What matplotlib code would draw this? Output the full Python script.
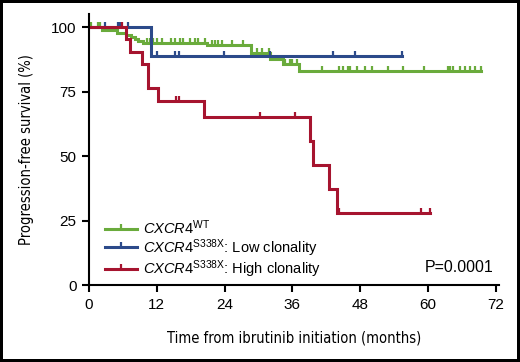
import numpy as np
import matplotlib
matplotlib.use("Agg")
import matplotlib.pyplot as plt
from matplotlib.lines import Line2D
from matplotlib.path import Path

plt.rcParams['font.family'] = ['Liberation Sans', 'DejaVu Sans']
plt.rcParams['mathtext.fontset'] = 'custom'
plt.rcParams['mathtext.rm'] = 'Liberation Sans'
plt.rcParams['mathtext.it'] = 'Liberation Sans:italic'

# step curves: time of each drop and survival after it (months, %)
wt_t = [0, 2.4, 4.9, 6.5, 7.5, 8.1, 8.7, 9.6, 20.9, 28.7, 32.0, 34.3, 37.2]
wt_s = [100, 98.8, 97.7, 96.9, 96.1, 95.3, 94.5, 93.7, 92.9, 90.0, 87.8, 85.6, 82.9]
wt_end = 69.4
wt_cens = [0.3, 1.6, 1.9, 10.2, 10.8, 11.4, 12.1, 12.9, 14.6, 15.2, 16.1, 16.7,
           17.9, 18.8, 19.3, 20.5, 21.7, 22.3, 22.9, 23.5, 25.3, 27.3, 29.7,
           30.7, 31.9, 34.7, 35.5, 36.0, 36.8, 41.2, 44.3, 45.0, 45.9, 46.2,
           47.4, 48.8, 50.0, 53.0, 55.5, 59.2, 63.5, 63.9, 64.4, 65.7, 66.5,
           67.4, 68.3, 69.4]

low_t = [0, 10.9]
low_s = [100, 88.9]
low_end = 55.4
low_cens = [2.8, 5.1, 5.5, 7.0, 12.1, 15.3, 15.9, 23.9, 32.0, 43.1, 47.1, 55.4]

high_t = [0, 6.5, 7.3, 9.4, 10.4, 12.2, 20.4, 39.1, 39.6, 42.5, 43.9]
high_s = [100, 95.2, 90.5, 85.7, 76.2, 71.4, 65.2, 55.9, 46.6, 37.3, 28.0]
high_end = 60.4
high_cens = [5.9, 15.4, 15.9, 30.3, 36.5, 44.3, 58.7, 60.4]

green = "#6aab3c"
blue = "#2c4a8a"
red = "#a6142f"

tick_mark = Path([(0, 0), (0, 1)], [Path.MOVETO, Path.LINETO])


def km(ax, t, s, end, cens, color):
    tt = np.append(t, end)
    ss = np.append(s, s[-1])
    ax.step(tt, ss, where="post", color=color, lw=2.2, solid_joinstyle="miter")
    idx = np.searchsorted(t, cens, side="right") - 1
    ax.plot(cens, np.array(s)[idx], ls="none", marker=tick_mark, ms=6.5,
            mec=color, mew=1.6)


fig = plt.figure(figsize=(5.2, 3.62), dpi=100)
fig.patch.set_edgecolor("black")
fig.patch.set_linewidth(3)
ax = fig.add_axes([0.171, 0.2127, 0.788, 0.748])

km(ax, wt_t, wt_s, wt_end, wt_cens, green)
km(ax, low_t, low_s, low_end, low_cens, blue)
km(ax, high_t, high_s, high_end, high_cens, red)

ax.set_xlim(0, 72.5)
ax.set_ylim(0, 105)
ax.set_xticks(range(0, 73, 12))
ax.set_yticks([0, 25, 50, 75, 100])
for s in ["top", "right"]:
    ax.spines[s].set_visible(False)
for s in ["left", "bottom"]:
    ax.spines[s].set_linewidth(1.5)
ax.tick_params(direction="out", length=5, width=1.5, labelsize=11, pad=4)

lab_font = dict(family="DejaVu Sans", stretch="condensed", size=10.5)
ax.set_xlabel("Time from ibrutinib initiation (months)", labelpad=14, **lab_font)
ax.set_ylabel("Progression-free survival (%)", labelpad=12, **lab_font)

handles = [Line2D([], [], color=c, lw=2.2, marker=tick_mark, ms=6.5, mew=1.6)
           for c in (green, blue, red)]
labels = [r"$\it{CXCR4}^{\rm{WT}}$",
          r"$\it{CXCR4}^{\rm{S338X}}$: Low clonality",
          r"$\it{CXCR4}^{\rm{S338X}}$: High clonality"]
ax.legend(handles, labels, loc="lower left", bbox_to_anchor=(0.01, -0.025),
          frameon=False, fontsize=10.5, handlelength=2.2, handletextpad=0.4,
          labelspacing=0.0, borderpad=0.3, numpoints=1)

ax.text(71.5, 6.6, "P=0.0001", ha="right", va="center", fontsize=11.5)

fig.savefig("out.png", dpi=100)
